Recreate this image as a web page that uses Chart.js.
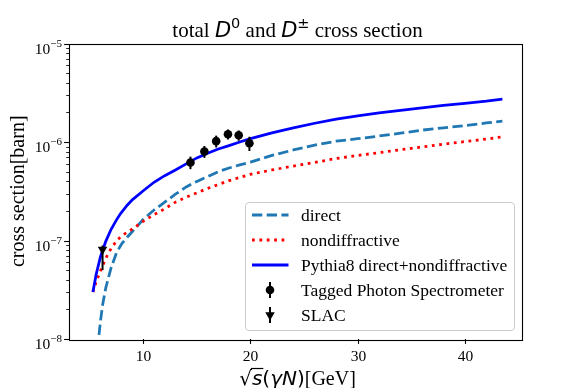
<!DOCTYPE html>
<html>
<head>
<meta charset="utf-8">
<script src="https://cdn.jsdelivr.net/npm/chart.js@4.4.1/dist/chart.umd.min.js"></script>
<style>
  html, body { margin: 0; padding: 0; background: #ffffff; }
  canvas { display: block; }
</style>
</head>
<body>
<canvas id="xsec-canvas" width="581" height="388"></canvas>
<script>
// 曲線データ (√s [GeV] と断面積 [barn]) --- (*1)
const directX = [5.87, 6.0, 6.2, 6.5, 7.0, 7.5, 8.0, 8.5, 9.0, 10, 11, 12, 13, 14, 15, 16, 17, 18, 19, 20, 22, 24, 26, 28, 30, 32, 34, 36, 38, 40, 42, 43.5];
const directY = [1.1e-8, 1.5e-8, 2.2e-8, 3.3e-8, 5.3e-8, 7.5e-8, 9.3e-8, 1.08e-7, 1.24e-7, 1.64e-7, 2.04e-7, 2.45e-7, 2.95e-7, 3.5e-7, 3.98e-7, 4.45e-7, 5.0e-7, 5.45e-7, 5.85e-7, 6.25e-7, 7.3e-7, 8.3e-7, 9.3e-7, 1.02e-6, 1.08e-6, 1.15e-6, 1.23e-6, 1.32e-6, 1.39e-6, 1.47e-6, 1.56e-6, 1.63e-6];
const nondiffX = [5.3, 5.6, 6.0, 6.5, 7.0, 7.5, 8, 9, 10, 11, 12, 13, 14, 15, 16, 17, 18, 20, 22, 24, 26, 28, 30, 32, 34, 36, 38, 40, 42, 43.5];
const nondiffY = [3.0e-8, 3.8e-8, 4.9e-8, 6.6e-8, 8.3e-8, 9.9e-8, 1.12e-7, 1.31e-7, 1.57e-7, 1.83e-7, 2.1e-7, 2.45e-7, 2.75e-7, 3.05e-7, 3.38e-7, 3.7e-7, 4.05e-7, 4.7e-7, 5.2e-7, 5.7e-7, 6.2e-7, 6.8e-7, 7.3e-7, 7.8e-7, 8.35e-7, 8.9e-7, 9.5e-7, 1.01e-6, 1.07e-6, 1.13e-6];
const pythiaX = [5.3, 5.6, 6.0, 6.5, 7.0, 7.5, 7.9, 8.5, 9.0, 10, 11, 12, 13, 14, 15, 16, 17, 18, 19, 20, 22, 24, 26, 28, 30, 32, 34, 36, 38, 40, 42, 43.5];
const pythiaY = [3.0e-8, 4.5e-8, 6.8e-8, 9.8e-8, 1.3e-7, 1.62e-7, 1.89e-7, 2.28e-7, 2.6e-7, 3.2e-7, 3.9e-7, 4.55e-7, 5.2e-7, 6.0e-7, 6.9e-7, 7.7e-7, 8.5e-7, 9.2e-7, 1.0e-6, 1.08e-6, 1.24e-6, 1.39e-6, 1.55e-6, 1.71e-6, 1.84e-6, 1.97e-6, 2.1e-6, 2.22e-6, 2.35e-6, 2.47e-6, 2.6e-6, 2.73e-6];
// 実験データ (誤差付き) --- (*2)
const tpsX = [14.4, 15.7, 16.8, 17.9, 18.9, 19.9];
const tpsY = [6.2e-7, 8.0e-7, 1.02e-6, 1.2e-6, 1.17e-6, 9.7e-7];
const tpsErr = [0.9e-7, 1.1e-7, 1.4e-7, 1.4e-7, 1.4e-7, 1.6e-7];
const slacX = [6.2];
const slacY = [8.1e-8];
const slacErrLow = [3.1e-8];
const slacErrHigh = [0.8e-8];
// 目盛り --- (*3)
const xTicks = [10, 20, 30, 40];
const yTickExps = [-8, -7, -6, -5];

const SERIF = '"Liberation Serif", "DejaVu Serif", serif';
const MATH = '"DejaVu Sans", sans-serif';
const LW = 2.78;

function toPoints(xs, ys) {
  return xs.map((x, i) => ({ x, y: ys[i] }));
}

// フォントの異なる文字列を並べて描く関数 --- (*4)
function drawRich(ctx, parts, x, y, align) {
  let w = 0;
  parts.forEach((p) => { ctx.font = p.f; p.w = ctx.measureText(p.t).width; w += p.w; });
  let cx = align === "center" ? x - w / 2 : align === "right" ? x - w : x;
  ctx.textAlign = "left";
  ctx.textBaseline = "alphabetic";
  parts.forEach((p) => {
    ctx.font = p.f;
    ctx.fillText(p.t, cx, y + (p.dy || 0));
    p.x = cx;
    cx += p.w;
  });
  return parts;
}

// 誤差棒プラグイン --- (*5)
const errorBarPlugin = {
  id: "errorBars",
  afterDatasetsDraw(chart) {
    const { ctx, scales: { x, y } } = chart;
    ctx.save();
    ctx.strokeStyle = "#000";
    ctx.lineWidth = 2;
    const bar = (vx, lo, hi) => {
      const px = x.getPixelForValue(vx);
      ctx.beginPath();
      ctx.moveTo(px, y.getPixelForValue(lo));
      ctx.lineTo(px, y.getPixelForValue(hi));
      ctx.stroke();
    };
    tpsX.forEach((vx, i) => bar(vx, tpsY[i] - tpsErr[i], tpsY[i] + tpsErr[i]));
    slacX.forEach((vx, i) => bar(vx, slacY[i] - slacErrLow[i], slacY[i] + slacErrHigh[i]));
    ctx.restore();
  },
};

// 枠・目盛り・文字・凡例を描くプラグイン --- (*6)
const decorPlugin = {
  id: "decor",
  afterDraw(chart) {
    const { ctx, chartArea: a, scales: { x, y } } = chart;
    ctx.save();
    ctx.fillStyle = "#000";
    ctx.strokeStyle = "#000";

    // x 目盛り
    ctx.lineWidth = 1.1;
    xTicks.forEach((t) => {
      const px = Math.round(x.getPixelForValue(t)) + 0.5;
      ctx.beginPath();
      ctx.moveTo(px, a.bottom);
      ctx.lineTo(px, a.bottom + 4.9);
      ctx.stroke();
      drawRich(ctx, [{ t: String(t), f: `15.5px ${SERIF}` }], px, a.bottom + 22, "center");
    });

    // y 目盛り (対数)
    yTickExps.forEach((e, k) => {
      const py = Math.round(y.getPixelForValue(Math.pow(10, e))) + 0.5;
      ctx.lineWidth = 1.1;
      ctx.beginPath();
      ctx.moveTo(a.left, py);
      ctx.lineTo(a.left - 4.9, py);
      ctx.stroke();
      drawRich(ctx, [
        { t: "10", f: `15.5px ${SERIF}` },
        { t: "\u2212" + String(-e), f: `11px ${SERIF}`, dy: -7.5 },
      ], a.left - 7, py + 9.5, "right");
      if (k < yTickExps.length - 1) {
        ctx.lineWidth = 0.85;
        for (let m = 2; m <= 9; m++) {
          const my = Math.round(y.getPixelForValue(m * Math.pow(10, e))) + 0.5;
          ctx.beginPath();
          ctx.moveTo(a.left, my);
          ctx.lineTo(a.left - 2.8, my);
          ctx.stroke();
        }
      }
    });

    // 枠
    ctx.lineWidth = 1.1;
    ctx.strokeRect(Math.round(a.left) + 0.5, Math.round(a.top) + 0.5,
      Math.round(a.right - a.left), Math.round(a.bottom - a.top));

    // タイトル
    const cxMid = (a.left + a.right) / 2;
    drawRich(ctx, [
      { t: "total ", f: `21px ${SERIF}` },
      { t: "D", f: `italic 21px ${MATH}` },
      { t: "0", f: `14.5px ${MATH}`, dy: -8.5 },
      { t: " and ", f: `21px ${SERIF}` },
      { t: "D", f: `italic 21px ${MATH}` },
      { t: "\u00b1", f: `14.5px ${MATH}`, dy: -8.5 },
      { t: " cross section", f: `21px ${SERIF}` },
    ], cxMid + 2, 36.7, "center");

    // x 軸ラベル
    const xl = drawRich(ctx, [
      { t: "\u221a", f: `20px ${MATH}` },
      { t: "s", f: `italic 20px ${MATH}` },
      { t: "(", f: `20px ${MATH}` },
      { t: "\u03b3N", f: `italic 20px ${MATH}` },
      { t: ")", f: `20px ${MATH}` },
      { t: "[GeV]", f: `20px ${SERIF}` },
    ], cxMid + 2, 385, "center");
    ctx.lineWidth = 1.2;
    ctx.beginPath();
    ctx.moveTo(xl[0].x + xl[0].w - 1, 385 - 16.5);
    ctx.lineTo(xl[1].x + xl[1].w + 1, 385 - 16.5);
    ctx.stroke();

    // y 軸ラベル
    ctx.save();
    ctx.translate(23.5, (a.top + a.bottom) / 2);
    ctx.rotate(-Math.PI / 2);
    drawRich(ctx, [{ t: "cross section[barn]", f: `20px ${SERIF}` }], 0, 0, "center");
    ctx.restore();

    // 凡例
    drawLegend(ctx, chart);
    ctx.restore();
  },
};

function drawLegend(ctx, chart) {
  const box = { left: 245, top: 202, right: 514, bottom: 330 };
  ctx.save();
  ctx.beginPath();
  ctx.roundRect(box.left + 0.5, box.top + 0.5, box.right - box.left, box.bottom - box.top, 3.5);
  ctx.fillStyle = "rgba(255,255,255,0.8)";
  ctx.fill();
  ctx.strokeStyle = "#cccccc";
  ctx.lineWidth = 1;
  ctx.stroke();

  const hx0 = 252, hx1 = 288.5, hxc = 270, tx = 301;
  chart.data.datasets.forEach((ds, i) => {
    const cy = 215 + i * 25;
    ctx.save();
    if (ds.showLine) {
      ctx.strokeStyle = ds.borderColor;
      ctx.lineWidth = LW;
      ctx.setLineDash(ds.borderDash || []);
      ctx.beginPath();
      ctx.moveTo(hx0, cy);
      ctx.lineTo(hx1, cy);
      ctx.stroke();
    } else {
      ctx.strokeStyle = "#000";
      ctx.lineWidth = 2;
      ctx.beginPath();
      ctx.moveTo(hxc, cy - 8);
      ctx.lineTo(hxc, cy + 8);
      ctx.stroke();
      ctx.fillStyle = "#000";
      Chart.helpers.drawPoint(ctx, {
        pointStyle: ds.pointStyle,
        rotation: ds.rotation || 0,
        radius: ds.pointRadius,
        borderWidth: 0,
      }, hxc, cy);
    }
    ctx.restore();
    ctx.fillStyle = "#000";
    drawRich(ctx, [{ t: ds.label, f: `17.5px ${SERIF}` }], tx, cy + 5.5, "left");
  });
  ctx.restore();
}

// グラフ本体 --- (*7)
window.addEventListener("DOMContentLoaded", () => {
  const canvas = document.querySelector("#xsec-canvas");
  new Chart(canvas, {
    type: "scatter",
    data: {
      datasets: [
        {
          label: "direct",
          data: toPoints(directX, directY),
          showLine: true,
          borderColor: "#1f77b4",
          borderWidth: LW,
          borderDash: [10.3, 4.4],
          pointRadius: 0,
          order: 3,
        },
        {
          label: "nondiffractive",
          data: toPoints(nondiffX, nondiffY),
          showLine: true,
          borderColor: "#ff0000",
          borderWidth: LW,
          borderDash: [2.78, 4.6],
          pointRadius: 0,
          order: 2,
        },
        {
          label: "Pythia8 direct+nondiffractive",
          data: toPoints(pythiaX, pythiaY),
          showLine: true,
          borderColor: "#0000ff",
          borderWidth: LW,
          pointRadius: 0,
          order: 1,
        },
        {
          label: "Tagged Photon Spectrometer",
          data: toPoints(tpsX, tpsY),
          showLine: false,
          pointStyle: "circle",
          pointRadius: 4.3,
          backgroundColor: "#000",
          borderColor: "#000",
          borderWidth: 0,
          order: 0,
        },
        {
          label: "SLAC",
          data: toPoints(slacX, slacY),
          showLine: false,
          pointStyle: "triangle",
          rotation: 180,
          pointRadius: 5.5,
          backgroundColor: "#000",
          borderColor: "#000",
          borderWidth: 0,
          order: 0,
        },
      ],
    },
    options: {
      responsive: false,
      devicePixelRatio: 1,
      animation: false,
      events: [],
      layout: { padding: { left: 69, top: 43.5, right: 59, bottom: 49 } },
      scales: {
        x: { type: "linear", min: 3.07, max: 45.33, display: false },
        y: { type: "logarithmic", min: 1e-8, max: 1e-5, display: false },
      },
      plugins: {
        legend: { display: false },
        title: { display: false },
        tooltip: { enabled: false },
      },
    },
    plugins: [errorBarPlugin, decorPlugin],
  });
});
</script>
</body>
</html>
